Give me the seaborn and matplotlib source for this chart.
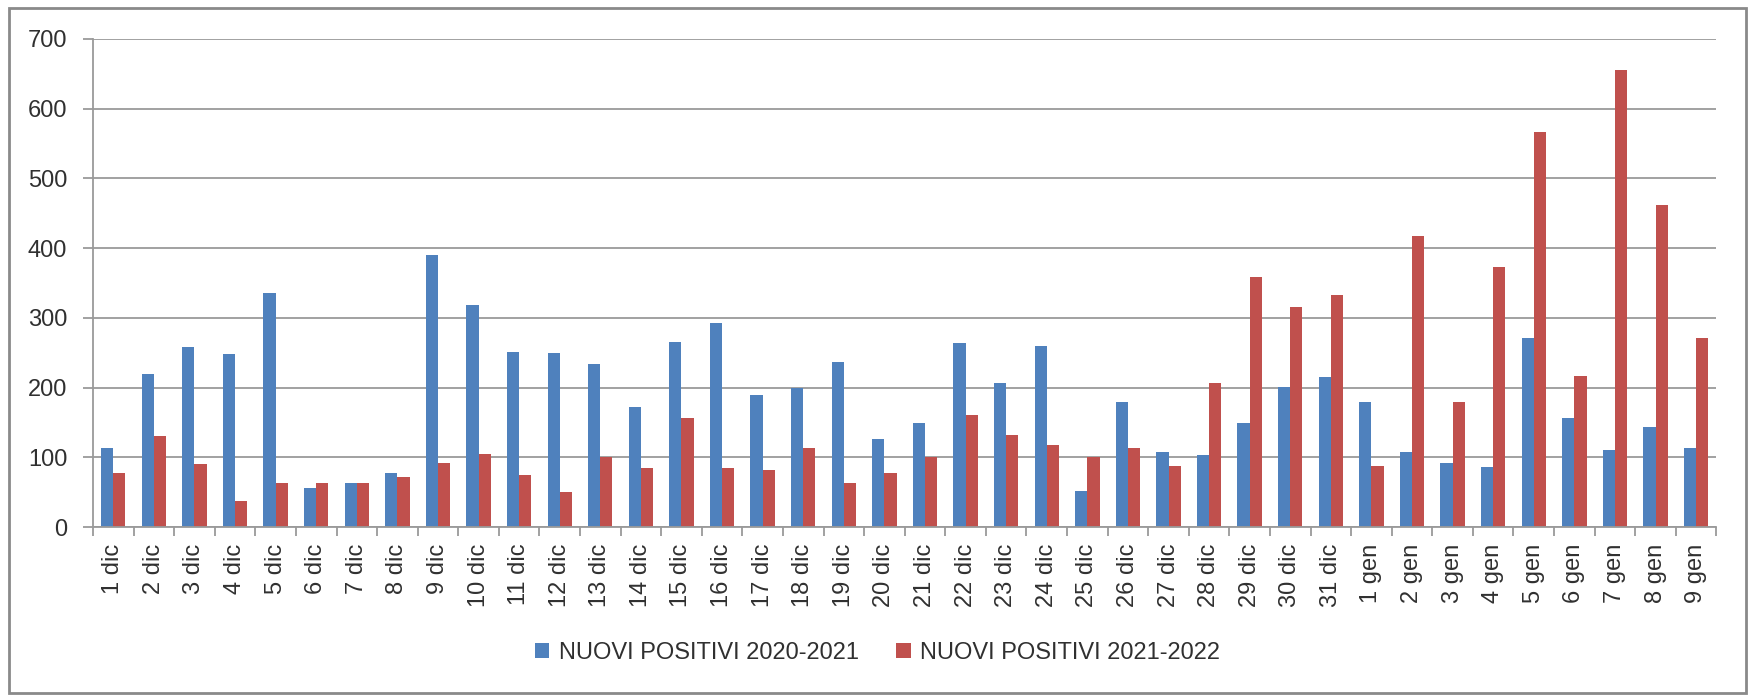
import pandas as pd
import seaborn as sns
import matplotlib.pyplot as plt
from matplotlib.patches import Rectangle

# data
days = [f"{d} dic" for d in range(1, 32)] + [f"{d} gen" for d in range(1, 10)]

pos_2020_2021 = [114, 220, 258, 248, 336, 56, 63, 78, 390, 318,
                 251, 249, 234, 172, 266, 292, 190, 199, 236, 126,
                 149, 264, 206, 259, 51, 179, 108, 104, 149, 201,
                 215, 180, 108, 92, 86, 271, 156, 111, 144, 114]

pos_2021_2022 = [78, 130, 90, 38, 63, 63, 63, 72, 92, 105,
                 75, 50, 101, 84, 156, 84, 82, 113, 63, 77,
                 100, 160, 132, 118, 100, 114, 88, 206, 358, 315,
                 333, 88, 417, 180, 373, 566, 217, 656, 462, 271]

series_names = ["NUOVI POSITIVI 2020-2021", "NUOVI POSITIVI 2021-2022"]
colors = ["#4F81BD", "#C0504D"]

df = pd.DataFrame({
    "Giorno": days * 2,
    "Positivi": pos_2020_2021 + pos_2021_2022,
    "Serie": [series_names[0]] * len(days) + [series_names[1]] * len(days),
})

sns.set_style("white")
plt.rcParams["font.family"] = ["Liberation Sans", "DejaVu Sans"]

fig = plt.figure(figsize=(17.55, 6.96), dpi=100)
ax = fig.add_axes([0.053, 0.2428, 0.925, 0.7012])

sns.barplot(data=df, x="Giorno", y="Positivi", hue="Serie", order=days,
            hue_order=series_names, palette=colors, width=0.6,
            saturation=1, linewidth=0, ax=ax)

ax.set_xlim(-0.5, len(days) - 0.5)
ax.set_ylim(0, 700)
ax.set_yticks(range(0, 701, 100))
ax.set_xlabel("")
ax.set_ylabel("")

grid_c = "#9a9a9a"
ax.yaxis.grid(True, color=grid_c, linewidth=1.3)
ax.set_axisbelow(True)
for s in ["top", "right"]:
    ax.spines[s].set_visible(False)
for s in ["left", "bottom"]:
    ax.spines[s].set_color(grid_c)
    ax.spines[s].set_linewidth(1.3)

ax.tick_params(axis="y", length=7.5, width=1.3, color=grid_c, pad=11,
               labelsize=17, labelcolor="#303030", left=True)
ax.tick_params(axis="x", which="major", length=0, pad=12, labelsize=17,
               labelcolor="#303030", rotation=90)
ax.set_xticks([i - 0.5 for i in range(len(days) + 1)], minor=True)
ax.tick_params(axis="x", which="minor", length=6.5, width=1.3, color=grid_c,
               bottom=True)

handles, labels = ax.get_legend_handles_labels()
ax.legend_.remove()
fig.legend(handles, labels, loc="center", bbox_to_anchor=(0.5, 0.062),
           ncol=2, frameon=False, handlelength=0.6, handleheight=0.6,
           handletextpad=0.4, columnspacing=1.6, fontsize=17,
           labelcolor="#303030")

fig.patches.append(Rectangle((0.005, 0.004), 0.99, 0.985, transform=fig.transFigure,
                             fill=False, edgecolor="#8a8a8a", linewidth=2))

plt.savefig("out.png", dpi=100)
